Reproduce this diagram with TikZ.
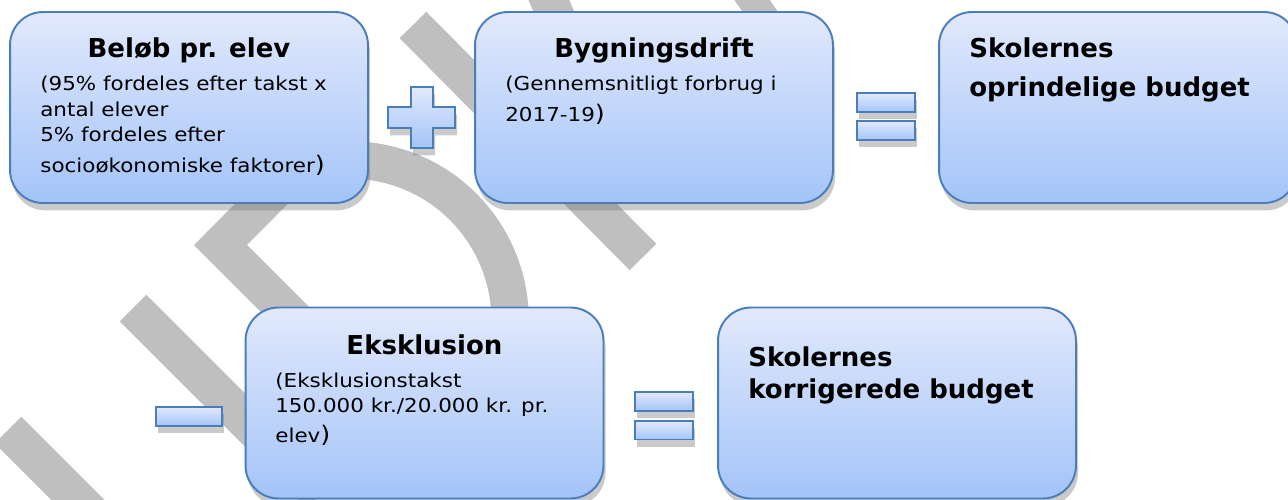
\documentclass[tikz,border=0pt]{standalone}
\usepackage{fontspec}
\setmainfont{DejaVu Sans}
\newfontfamily\bodyfont{DejaVu Sans}[FakeStretch=1.12]
\usetikzlibrary{shadows}

\definecolor{boxline}{RGB}{74,126,187}
\definecolor{boxtop}{RGB}{226,233,252}
\definecolor{boxbot}{RGB}{163,196,248}
\definecolor{wmgrey}{RGB}{191,191,191}

\tikzset{
  skygge/.style={drop shadow={shadow xshift=1.2pt, shadow yshift=-4.2pt, fill=black!55, opacity=0.38}},
  boks/.style={draw=boxline, line width=1.1pt, rounded corners=0.66cm,
    top color=boxtop, bottom color=boxbot, inner sep=0pt,
    minimum width=7.16cm, minimum height=3.82cm, skygge},
  tegn/.style={draw=boxline, line width=0.85pt, top color=boxtop, bottom color=boxbot,
    inner sep=0pt, skygge},
  titel/.style={anchor=base, inner sep=0pt, font=\bfseries\fontsize{14.8}{16}\selectfont},
  navn/.style={anchor=base west, inner sep=0pt, font=\bfseries\fontsize{14.8}{16}\selectfont},
  tekst/.style={anchor=base west, inner sep=0pt, font=\bodyfont\fontsize{10.9}{13}\selectfont},
  vm/.style={draw=wmgrey, line width=0.75cm},
}
\newcommand{\stor}[1]{{\fontsize{13}{13}\selectfont #1}}

\begin{document}
\begin{tikzpicture}[x=0.02cm, y=-0.02cm]

    % Fix the frame of the picture
    \useasboundingbox (0,0) rectangle (1288,500);

    % Watermark strokes behind everything
    \draw[vm] (536,-30) -- (566,40);
    \draw[vm, line width=0.58cm] (738,-20) -- (780,40);
    \draw[vm] (413,25) -- (643,257);
    \draw[vm] (133,308) -- (320,495);
    \draw[vm] (8,430) -- (120,542);
    \draw[vm, miter limit=4] (300,165) -- (220.5,245) -- (320,344.5);
    \draw[vm] (507.6,347.8) arc[start angle=10, end angle=-115, radius=160];

    % The five boxes
    \node[boks] (belob) at (189,107.5) {};
    \node[boks] (bygning) at (654,107.5) {};
    \node[boks] (oprind) at (1118,107.5) {};
    \node[boks] (eksklu) at (424.5,403) {};
    \node[boks] (korrig) at (897,403) {};

    % Plus, minus and equal signs
    \draw[tegn] (411,87) -- (433,87) -- (433,107) -- (455,107) -- (455,128)
        -- (433,128) -- (433,148) -- (411,148) -- (411,128) -- (388,128)
        -- (388,107) -- (411,107) -- cycle;
    \node[tegn, minimum width=1.16cm, minimum height=0.38cm] (lig1a) at (886,102.5) {};
    \node[tegn, minimum width=1.16cm, minimum height=0.38cm] (lig1b) at (886,130.5) {};
    \node[tegn, minimum width=1.32cm, minimum height=0.38cm] (minus) at (189,416.5) {};
    \node[tegn, minimum width=1.16cm, minimum height=0.38cm] (lig2a) at (664,401.5) {};
    \node[tegn, minimum width=1.16cm, minimum height=0.37cm] (lig2b) at (664,430) {};

    % Texts in the first box
    \node[titel] (belobT) at (189,58) {Beløb pr. elev};
    \node[tekst] (belob1) at (40,91) {(95\% fordeles efter takst x};
    \node[tekst] (belob2) at (40,116) {antal elever};
    \node[tekst] (belob3) at (40,141) {5\% fordeles efter};
    \node[tekst] (belob4) at (40,173) {socioøkonomiske faktorer\stor{)}};

    % Texts in the second box
    \node[titel] (bygningT) at (654,58) {Bygningsdrift};
    \node[tekst] (bygning1) at (505,91) {(Gennemsnitligt forbrug i};
    \node[tekst] (bygning2) at (505,122) {2017-19\stor{)}};

    % Texts in the third box
    \node[navn] (oprind1) at (969,58) {Skolernes};
    \node[navn] (oprind2) at (969,97) {oprindelige budget};

    % Texts in the fourth box
    \node[titel] (ekskluT) at (424.5,354) {Eksklusion};
    \node[tekst] (eksklu1) at (275,387) {(Eksklusionstakst};
    \node[tekst] (eksklu2) at (275,412) {150.000 kr./20.000 kr. pr.};
    \node[tekst] (eksklu3) at (275,442) {elev\stor{)}};

    % Texts in the fifth box
    \node[navn] (korrig1) at (748,366) {Skolernes};
    \node[navn] (korrig2) at (748,398) {korrigerede budget};

\end{tikzpicture}
\end{document}
